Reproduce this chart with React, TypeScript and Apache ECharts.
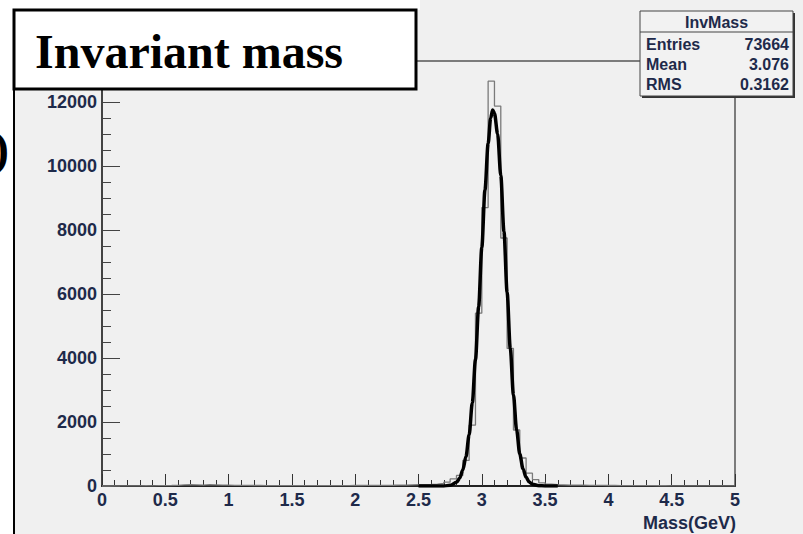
import React, { useEffect, useRef } from "react";
import * as echarts from "echarts";

// ---- data ----
const binWidth = 0.05; // GeV, 100 bins from 0 to 5
const binCounts = [
  0, 2, 3, 5, 4, 6, 8, 7, 10, 12,
  15, 20, 35, 40, 38, 30, 42, 36, 28, 25,
  22, 20, 18, 15, 16, 14, 12, 13, 11, 10,
  10, 9, 11, 10, 12, 11, 13, 12, 14, 15,
  16, 18, 17, 20, 22, 24, 28, 30, 35, 40,
  45, 50, 60, 80, 120, 220, 330, 800, 1900, 5400,
  8700, 12650, 11870, 7750, 4300, 1750, 875, 400, 200, 100,
  60, 40, 35, 30, 28, 25, 22, 20, 18, 16,
  15, 14, 12, 12, 10, 10, 9, 8, 8, 7,
  6, 6, 5, 5, 4, 4, 3, 3, 2, 2,
];
const fitX = [
  2.5, 2.6, 2.65, 2.7, 2.75, 2.8, 2.825, 2.85, 2.875, 2.9, 2.925, 2.95, 2.975,
  3.0, 3.025, 3.05, 3.07, 3.086, 3.1, 3.125, 3.15, 3.175, 3.2, 3.225, 3.25,
  3.275, 3.3, 3.325, 3.35, 3.375, 3.4, 3.45, 3.5, 3.6,
];
const fitY = [
  0, 0, 1, 3, 20, 115, 240, 500, 920, 1600, 2600, 3950, 5600,
  7450, 9250, 10700, 11500, 11750, 11650, 11000, 9700, 7950, 6050, 4300, 2850,
  1750, 1000, 540, 270, 125, 55, 9, 1, 0,
];
const xMin = 0;
const xMax = 5;
const xMajor = 0.5;
const yMin = 0;
const yMax = 13280;
const yMajor = 2000;
const yMinor = 500;

const chartTitle = "Invariant mass";
const xAxisTitle = "Mass(GeV)";
const statsTitle = "InvMass";
const statsLabels = ["Entries", "Mean", "RMS"];
const statsValues = ["73664", "3.076", "0.3162"];

const labelColor = "#1e2a4a";
const sansFont = "'Liberation Sans', Arial, sans-serif";
const serifFont = "'Liberation Serif', 'Times New Roman', serif";

export default function App() {
  const ref = useRef<HTMLDivElement>(null);

  useEffect(() => {
    if (!ref.current) return;
    const chart = echarts.init(ref.current, undefined, { renderer: "svg" });

    const histData: [number, number][] = binCounts.map((v, i) => [i * binWidth, v]);
    histData.push([xMax, binCounts[binCounts.length - 1]]);
    const fitData: [number, number][] = fitX.map((x, i) => [x, fitY[i]]);

    const statsRowsY = [44, 64, 84];

    const option: any = {
      animation: false,
      backgroundColor: "#f0f0f0",
      grid: {
        left: 102,
        right: 68,
        top: 61,
        bottom: 48,
        show: true,
        borderColor: "#555",
        borderWidth: 1.5,
        backgroundColor: "transparent",
        outerBoundsMode: "none",
      },
      xAxis: [
        {
          type: "value",
          min: xMin,
          max: xMax,
          interval: xMajor,
          position: "bottom",
          axisLine: { show: true, onZero: false, lineStyle: { color: "#222", width: 2 } },
          axisTick: { show: true, inside: true, length: 12, lineStyle: { color: "#333", width: 1 } },
          minorTick: { show: true, splitNumber: 5, length: 6, lineStyle: { color: "#333", width: 1 } },
          axisLabel: {
            color: labelColor,
            fontSize: 18,
            fontWeight: "bold",
            fontFamily: sansFont,
            margin: 5,
          },
          splitLine: { show: false },
          minorSplitLine: { show: false },
        },
      ],
      yAxis: [
        {
          type: "value",
          min: yMin,
          max: yMax,
          interval: yMajor,
          position: "left",
          axisLine: { show: true, onZero: false, lineStyle: { color: "#444", width: 2 } },
          axisTick: { show: true, inside: true, length: 18, lineStyle: { color: "#444", width: 1 } },
          axisLabel: {
            color: labelColor,
            fontSize: 18,
            fontWeight: "bold",
            fontFamily: sansFont,
            margin: 5,
            showMaxLabel: false,
            formatter: (v: number) => (v % yMajor === 0 ? String(v) : ""),
          },
          splitLine: { show: false },
        },
        {
          type: "value",
          min: yMin,
          max: yMax,
          interval: yMinor,
          position: "left",
          offset: 0,
          axisLine: { show: false },
          axisTick: { show: true, inside: true, length: 9, lineStyle: { color: "#444", width: 1 } },
          axisLabel: { show: false },
          splitLine: { show: false },
        },
      ],
      series: [
        {
          type: "line",
          name: "hist",
          xAxisIndex: 0,
          yAxisIndex: 0,
          step: "end",
          data: histData,
          showSymbol: false,
          lineStyle: { color: "#7a7a7a", width: 1.3 },
          z: 2,
        },
        {
          type: "line",
          name: "fit",
          xAxisIndex: 0,
          yAxisIndex: 0,
          data: fitData,
          smooth: 0.3,
          smoothMonotone: "x",
          showSymbol: false,
          lineStyle: { color: "#000", width: 3.5 },
          z: 3,
        },
      ],
      graphic: [
        // slide remnants at left
        { type: "rect", z: 100, shape: { x: 0, y: 0, width: 14, height: 534 }, style: { fill: "#ffffff" } },
        { type: "rect", z: 100, shape: { x: 0, y: 0, width: 420, height: 10 }, style: { fill: "#ffffff" } },
        { type: "line", z: 101, shape: { x1: 14, y1: 88, x2: 14, y2: 534 }, style: { stroke: "#000", lineWidth: 2 } },
        {
          type: "text",
          z: 101,
          x: 9,
          y: 148,
          style: {
            text: ")",
            font: `bold 48px ${serifFont}`,
            fill: "#000",
            align: "right",
            verticalAlign: "middle",
          },
        },
        // title box
        {
          type: "rect",
          z: 110,
          shape: { x: 14, y: 10, width: 402, height: 79 },
          style: { fill: "#ffffff", stroke: "#000", lineWidth: 3 },
        },
        {
          type: "text",
          z: 111,
          x: 35,
          y: 51,
          style: {
            text: chartTitle,
            font: `bold 48px ${serifFont}`,
            fill: "#000",
            align: "left",
            verticalAlign: "middle",
          },
        },
        // stats box
        {
          type: "rect",
          z: 110,
          shape: { x: 642, y: 13, width: 153, height: 85 },
          style: { fill: "#333" },
        },
        {
          type: "rect",
          z: 111,
          shape: { x: 640, y: 11, width: 153, height: 85 },
          style: { fill: "#f2f2f2", stroke: "#444", lineWidth: 1 },
        },
        {
          type: "line",
          z: 112,
          shape: { x1: 640, y1: 32, x2: 793, y2: 32 },
          style: { stroke: "#444", lineWidth: 1 },
        },
        {
          type: "text",
          z: 112,
          x: 716.5,
          y: 22,
          style: {
            text: statsTitle,
            font: `bold 16px ${sansFont}`,
            fill: labelColor,
            align: "center",
            verticalAlign: "middle",
          },
        },
        ...statsLabels.map((t, i) => ({
          type: "text",
          z: 112,
          x: 646,
          y: statsRowsY[i],
          style: {
            text: t,
            font: `bold 16px ${sansFont}`,
            fill: labelColor,
            align: "left",
            verticalAlign: "middle",
          },
        })),
        ...statsValues.map((t, i) => ({
          type: "text",
          z: 112,
          x: 789,
          y: statsRowsY[i],
          style: {
            text: t,
            font: `bold 16px ${sansFont}`,
            fill: labelColor,
            align: "right",
            verticalAlign: "middle",
          },
        })),
        // x-axis title
        {
          type: "text",
          z: 101,
          x: 736,
          y: 523,
          style: {
            text: xAxisTitle,
            font: `bold 18px ${sansFont}`,
            fill: labelColor,
            align: "right",
            verticalAlign: "middle",
          },
        },
      ],
    };

    chart.setOption(option);
    return () => chart.dispose();
  }, []);

  return (
    <div
      ref={ref}
      style={{ position: "fixed", left: 0, top: 0, width: 803, height: 534 }}
    />
  );
}
